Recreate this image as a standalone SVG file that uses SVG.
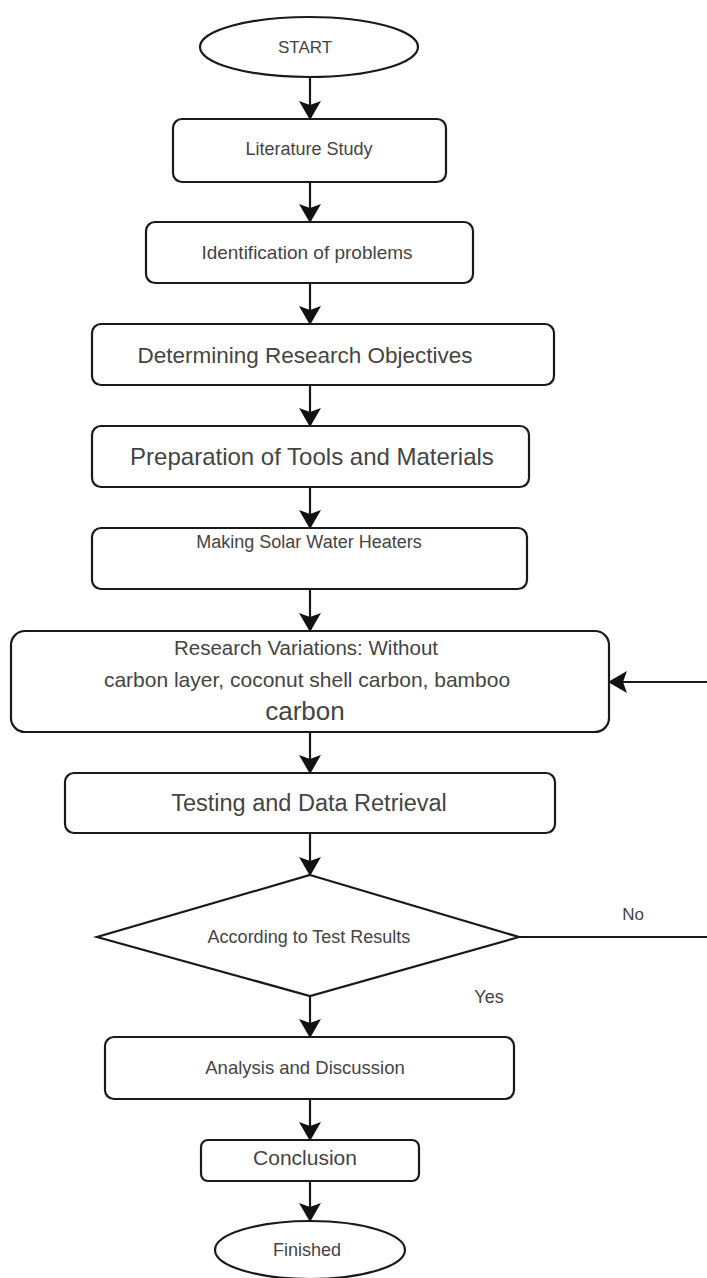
<svg xmlns="http://www.w3.org/2000/svg" width="707" height="1278" viewBox="0 0 707 1278">
<style>
.shape{fill:#fff;stroke:#1a1a1a;stroke-width:2.2}
.t{font-family:"Liberation Sans",Arial,sans-serif;fill:#444;text-anchor:middle}
.c{fill:none;stroke:#1a1a1a;stroke-width:2.2}
</style>
<defs>
<marker id="arr" markerUnits="userSpaceOnUse" viewBox="0 0 19 22" refX="18" refY="11" markerWidth="19" markerHeight="22" orient="auto">
<path d="M0,0 L19,11 L0,22 L4,11 Z" fill="#111"/>
</marker>
</defs>
<rect width="707" height="1278" fill="#fff"/>
<g id="connectors">
<line class="c" x1="310" y1="78" x2="310" y2="119" marker-end="url(#arr)"/>
<line class="c" x1="310" y1="182" x2="310" y2="222" marker-end="url(#arr)"/>
<line class="c" x1="310" y1="283" x2="310" y2="324" marker-end="url(#arr)"/>
<line class="c" x1="310" y1="385" x2="310" y2="426" marker-end="url(#arr)"/>
<line class="c" x1="310" y1="487" x2="310" y2="528" marker-end="url(#arr)"/>
<line class="c" x1="310" y1="589" x2="310" y2="631" marker-end="url(#arr)"/>
<line class="c" x1="310" y1="732" x2="310" y2="773" marker-end="url(#arr)"/>
<line class="c" x1="310" y1="833" x2="310" y2="875" marker-end="url(#arr)"/>
<line class="c" x1="310" y1="996" x2="310" y2="1037" marker-end="url(#arr)"/>
<line class="c" x1="310" y1="1099" x2="310" y2="1140" marker-end="url(#arr)"/>
<line class="c" x1="310" y1="1181" x2="310" y2="1221" marker-end="url(#arr)"/>
<path class="c" d="M519,937 H712 V682 H609" marker-end="url(#arr)"/>
<text class="t" x="633" y="920" font-size="17">No</text>
<text class="t" x="489" y="1003" font-size="18">Yes</text>
</g>
<g id="start">
<ellipse class="shape" cx="309" cy="47" rx="109" ry="30"/>
<text class="t" x="305" y="53" font-size="17">START</text>
</g>
<g id="literature">
<rect class="shape" x="173" y="119" width="273" height="63" rx="9"/>
<text class="t" x="309" y="155" font-size="18">Literature Study</text>
</g>
<g id="identification">
<rect class="shape" x="146" y="222" width="327" height="61" rx="9"/>
<text class="t" x="307" y="259" font-size="19">Identification of problems</text>
</g>
<g id="objectives">
<rect class="shape" x="92" y="324" width="462" height="61" rx="9"/>
<text class="t" x="305" y="363" font-size="22.5">Determining Research Objectives</text>
</g>
<g id="preparation">
<rect class="shape" x="92" y="426" width="437" height="61" rx="9"/>
<text class="t" x="312" y="465" font-size="24">Preparation of Tools and Materials</text>
</g>
<g id="making">
<rect class="shape" x="92" y="528" width="435" height="61" rx="9"/>
<text class="t" x="309" y="548" font-size="18">Making Solar Water Heaters</text>
</g>
<g id="variations">
<rect class="shape" x="11" y="631" width="598" height="101" rx="14"/>
<text class="t" x="306" y="655" font-size="20.5">Research Variations: Without</text>
<text class="t" x="307" y="687" font-size="21">carbon layer, coconut shell carbon, bamboo</text>
<text class="t" x="305" y="720" font-size="26">carbon</text>
</g>
<g id="testing">
<rect class="shape" x="65" y="773" width="490" height="60" rx="9"/>
<text class="t" x="309" y="811" font-size="23.5">Testing and Data Retrieval</text>
</g>
<g id="decision">
<polygon class="shape" points="310,875 519,937 310,996 97,937"/>
<text class="t" x="309" y="943" font-size="18">According to Test Results</text>
</g>
<g id="analysis">
<rect class="shape" x="105" y="1037" width="409" height="62" rx="9"/>
<text class="t" x="305" y="1074" font-size="18.5">Analysis and Discussion</text>
</g>
<g id="conclusion">
<rect class="shape" x="201" y="1140" width="218" height="41" rx="7"/>
<text class="t" x="305" y="1165" font-size="21">Conclusion</text>
</g>
<g id="finished">
<ellipse class="shape" cx="310" cy="1250" rx="95" ry="29"/>
<text class="t" x="307" y="1256" font-size="18">Finished</text>
</g>
</svg>
